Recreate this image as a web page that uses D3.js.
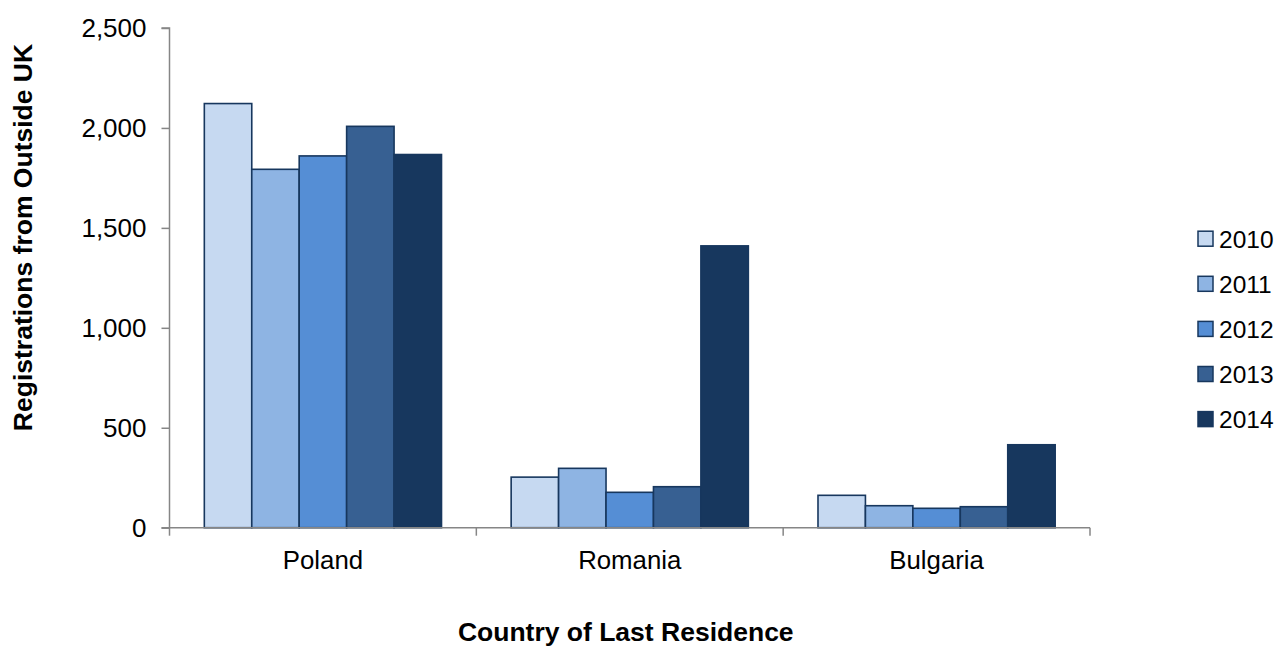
<!DOCTYPE html>
<html>
<head>
<meta charset="utf-8">
<script src="https://cdn.jsdelivr.net/npm/d3@7"></script>
<style>
  html, body { margin: 0; padding: 0; background: #ffffff; }
  svg { display: block; font-family: "Liberation Sans", Arial, sans-serif; }
</style>
</head>
<body>
<svg id="chart" width="1279" height="646"></svg>
<script>
// ---- data ----
const countries = ["Poland", "Romania", "Bulgaria"];
const years = ["2010", "2011", "2012", "2013", "2014"];
const values2010 = [2122, 253, 162];
const values2011 = [1793, 297, 110];
const values2012 = [1860, 177, 97];
const values2013 = [2008, 205, 105];
const values2014 = [1867, 1410, 415];
const yTicks = [0, 500, 1000, 1500, 2000, 2500];
const yTitle = "Registrations from Outside UK";
const xTitle = "Country of Last Residence";

const seriesValues = [values2010, values2011, values2012, values2013, values2014];
const colors = ["#C6D9F1", "#8EB4E3", "#558ED5", "#376092", "#17375E"];
const strokeColor = "#17375E";
const axisColor = "#868686";

const svg = d3.select("#chart");
const plot = { left: 169.5, right: 1090, top: 28, bottom: 527.7 };

const x0 = d3.scaleBand().domain(countries).range([plot.left, plot.right]).padding(0);
const bw = x0.bandwidth();
const gpad = bw * 0.1135;
const x1 = d3.scaleBand().domain(years).range([gpad, bw - gpad]).padding(0);
const y = d3.scaleLinear().domain([0, 2500]).range([plot.bottom, plot.top]);

// bars
const groups = svg.append("g").selectAll("g")
  .data(countries)
  .join("g")
  .attr("transform", d => `translate(${x0(d)},0)`);

groups.selectAll("rect")
  .data((c, ci) => years.map((yr, si) => ({ yr, si, v: seriesValues[si][ci] })))
  .join("rect")
  .attr("x", d => x1(d.yr))
  .attr("y", d => y(d.v))
  .attr("width", x1.bandwidth())
  .attr("height", d => y(0) - y(d.v))
  .attr("fill", d => colors[d.si])
  .attr("stroke", strokeColor)
  .attr("stroke-width", 1.6);

// y axis
const yAxis = d3.axisLeft(y).tickValues(yTicks).tickSize(8).tickPadding(15)
  .tickFormat(d3.format(","));
const yg = svg.append("g").attr("transform", `translate(${plot.left},0)`).call(yAxis);
yg.select(".domain").attr("stroke", axisColor).attr("stroke-width", 1.5)
  .attr("d", `M-8,${plot.top}H0V${plot.bottom}`);
yg.selectAll(".tick line").attr("stroke", axisColor).attr("stroke-width", 1.5);
yg.selectAll(".tick text").attr("fill", "#000").style("font-size", "26px")
  .style("font-family", "'Liberation Sans', Arial, sans-serif");

// x axis
const xBoundaries = countries.map(c => x0(c)).concat([plot.right]);
const xg = svg.append("g");
xg.append("line")
  .attr("x1", plot.left - 8).attr("x2", plot.right)
  .attr("y1", plot.bottom).attr("y2", plot.bottom)
  .attr("stroke", axisColor).attr("stroke-width", 1.5);
xg.selectAll("line.xt")
  .data(xBoundaries)
  .join("line")
  .attr("class", "xt")
  .attr("x1", d => d).attr("x2", d => d)
  .attr("y1", plot.bottom).attr("y2", plot.bottom + 8)
  .attr("stroke", axisColor).attr("stroke-width", 1.5);
xg.selectAll("text")
  .data(countries)
  .join("text")
  .attr("x", d => x0(d) + bw / 2)
  .attr("y", 569)
  .attr("text-anchor", "middle")
  .style("font-size", "25.8px")
  .text(d => d);

// titles
svg.append("text")
  .attr("transform", "translate(32,237.5) rotate(-90)")
  .attr("text-anchor", "middle")
  .style("font-size", "26.5px")
  .style("font-weight", "bold")
  .text(yTitle);

svg.append("text")
  .attr("x", (plot.left + plot.right) / 2 - 4)
  .attr("y", 641)
  .attr("text-anchor", "middle")
  .style("font-size", "26.5px")
  .style("font-weight", "bold")
  .text(xTitle);

// legend
const legend = svg.append("g");
const leg = legend.selectAll("g")
  .data(years)
  .join("g")
  .attr("transform", (d, i) => `translate(1198,${238.7 + i * 45.1})`);
leg.append("rect")
  .attr("x", 0).attr("y", -7.5)
  .attr("width", 15).attr("height", 15)
  .attr("fill", (d, i) => colors[i])
  .attr("stroke", strokeColor).attr("stroke-width", 1.5);
leg.append("text")
  .attr("x", 21).attr("y", 0)
  .attr("dy", "0.36em")
  .style("font-size", "24.5px")
  .text(d => d);
</script>
</body>
</html>
